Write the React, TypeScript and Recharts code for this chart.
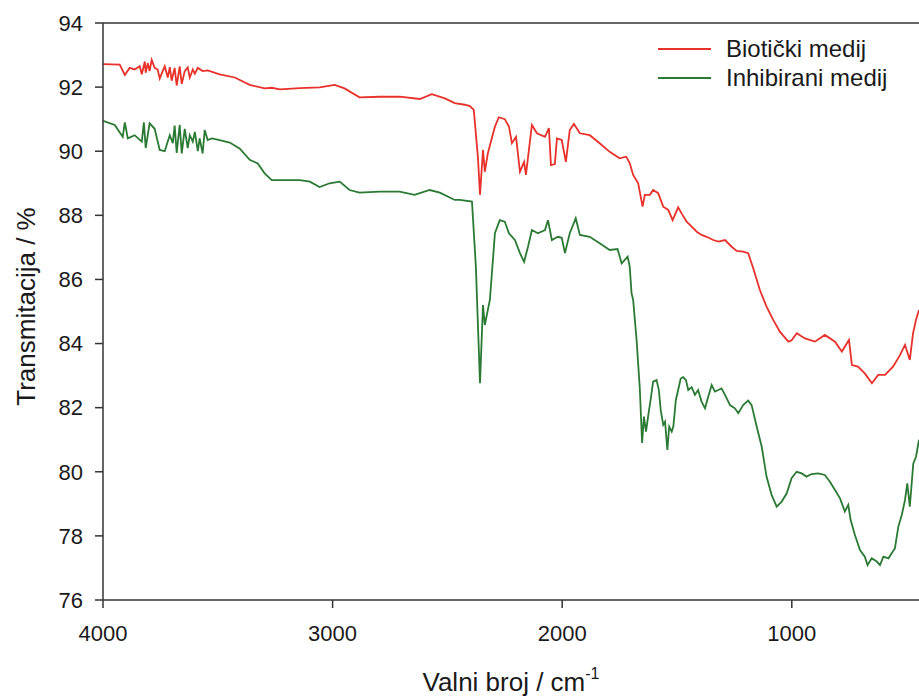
import React from 'react';
import { LineChart, Line, XAxis, YAxis, ReferenceLine } from 'recharts';

// wavenumber (cm-1) and transmittance (%)
const bioticWavenumbers = [
  4000, 3927, 3905, 3884, 3862, 3840, 3831, 3818, 3814, 3805, 3797, 3788, 3775, 3762, 3753,
  3740, 3731, 3718, 3709, 3701, 3688, 3679, 3666, 3657, 3644, 3631, 3622, 3609, 3600, 3587,
  3566, 3544, 3492, 3426, 3361, 3296, 3265, 3230, 3143, 3057, 2991, 2948, 2883, 2795, 2708,
  2620, 2568, 2511, 2468, 2424, 2402, 2385, 2367, 2358, 2345, 2337, 2324, 2293, 2276, 2250,
  2232, 2219, 2201, 2184, 2166, 2158, 2132, 2110, 2075, 2058, 2049, 2032, 2023, 2002, 1984,
  1967, 1949, 1923, 1880, 1837, 1793, 1750, 1721, 1706, 1691, 1669, 1650, 1640, 1618, 1604,
  1582, 1560, 1538, 1519, 1495, 1480, 1458, 1436, 1414, 1393, 1371, 1342, 1320, 1291, 1262,
  1240, 1212, 1190, 1168, 1139, 1110, 1081, 1052, 1015, 1001, 978, 943, 899, 856, 812,
  782, 751, 738, 712, 682, 651, 624, 594, 559, 529, 507, 486, 472, 459, 446,
];
const bioticValues = [
  92.72, 92.7, 92.38, 92.6, 92.55, 92.65, 92.4, 92.8, 92.45, 92.75, 92.5, 92.85, 92.6, 92.55, 92.27,
  92.5, 92.65, 92.3, 92.62, 92.2, 92.6, 92.05, 92.65, 92.1, 92.5, 92.62, 92.3, 92.55, 92.42, 92.6,
  92.5, 92.52, 92.4, 92.3, 92.07, 91.96, 91.98, 91.93, 91.97, 91.99, 92.07, 91.96, 91.68, 91.7, 91.7,
  91.63, 91.78, 91.65, 91.5, 91.45, 91.41, 91.29, 89.8, 88.64, 90.04, 89.36, 89.93, 90.77, 91.06, 91.0,
  90.77, 90.25, 90.45, 89.36, 89.67, 89.26, 90.82, 90.56, 90.45, 90.72, 89.57, 89.6, 90.4, 90.35, 89.67,
  90.66, 90.85, 90.56, 90.5, 90.25, 89.98, 89.78, 89.83, 89.63, 89.26, 89.0, 88.27, 88.64, 88.64, 88.79,
  88.69, 88.27, 88.17, 87.85, 88.25, 88.06, 87.8, 87.65, 87.49, 87.39, 87.33, 87.23, 87.18, 87.23, 87.02,
  86.89, 86.87, 86.82, 86.35, 85.67, 85.15, 84.74, 84.37, 84.06, 84.1, 84.32, 84.16, 84.06, 84.27, 84.06,
  83.75, 84.11, 83.33, 83.28, 83.07, 82.76, 83.02, 83.02, 83.28, 83.64, 83.96, 83.49, 84.32, 84.74, 85.05,
];

const inhibitedWavenumbers = [
  4000, 3949, 3914, 3905, 3892, 3862, 3831, 3822, 3814, 3797, 3775, 3753, 3731, 3718, 3709,
  3696, 3688, 3679, 3666, 3657, 3644, 3631, 3622, 3609, 3600, 3587, 3579, 3566, 3557, 3544,
  3526, 3492, 3448, 3404, 3361, 3326, 3296, 3265, 3209, 3143, 3099, 3057, 3013, 2969, 2926,
  2883, 2795, 2708, 2643, 2577, 2533, 2468, 2446, 2393, 2376, 2358, 2345, 2337, 2315, 2293,
  2272, 2250, 2232, 2206, 2184, 2166, 2149, 2132, 2106, 2075, 2062, 2045, 2019, 2002, 1988,
  1967, 1941, 1923, 1880, 1837, 1793, 1759, 1741, 1715, 1706, 1698, 1691, 1676, 1662, 1652,
  1644, 1635, 1625, 1615, 1604, 1589, 1579, 1571, 1560, 1552, 1542, 1534, 1523, 1516, 1505,
  1495, 1484, 1473, 1461, 1451, 1436, 1422, 1408, 1393, 1378, 1364, 1349, 1335, 1320, 1306,
  1291, 1269, 1248, 1233, 1212, 1190, 1175, 1153, 1131, 1110, 1088, 1066, 1044, 1022, 1001,
  979, 957, 936, 914, 885, 856, 834, 812, 790, 769, 754, 744, 725, 703, 682,
  670, 652, 630, 616, 601, 579, 565, 551, 536, 521, 507, 497, 486, 471, 459, 446,
];
const inhibitedValues = [
  90.95, 90.82, 90.45, 90.9, 90.4, 90.5, 90.3, 90.9, 90.1, 90.87, 90.7, 90.04, 90.0, 90.3, 90.5,
  90.25, 90.8, 89.95, 90.82, 89.93, 90.7, 90.1, 90.5, 90.3, 90.6, 90.0, 90.4, 89.93, 90.66, 90.35,
  90.4, 90.35, 90.27, 90.08, 89.73, 89.62, 89.31, 89.1, 89.1, 89.1, 89.05, 88.88, 89.0, 89.05, 88.79,
  88.71, 88.74, 88.74, 88.64, 88.79, 88.71, 88.48, 88.48, 88.43, 86.4, 82.76, 85.2, 84.58, 85.36, 87.44,
  87.85, 87.8, 87.44, 87.23, 86.82, 86.55, 87.02, 87.54, 87.44, 87.54, 87.85, 87.23, 87.33, 87.3, 86.82,
  87.44, 87.91, 87.39, 87.33, 87.13, 86.92, 86.95, 86.5, 86.71, 86.4, 85.57, 85.36, 84.11, 82.6, 80.9,
  81.72, 81.25, 81.77, 82.24, 82.81, 82.86, 82.55, 81.93, 81.46, 81.56, 80.68, 81.41, 81.25, 81.41, 82.24,
  82.55, 82.91, 82.95, 82.86, 82.55, 82.64, 82.4, 82.55, 82.19, 81.98, 82.34, 82.71, 82.5, 82.55, 82.6,
  82.4, 82.08, 81.98, 81.83, 82.08, 82.22, 82.08, 81.41, 80.78, 79.85, 79.28, 78.91, 79.07, 79.33, 79.8,
  80.0, 79.95, 79.85, 79.93, 79.95, 79.9, 79.69, 79.43, 79.17, 78.76, 78.97, 78.5, 78.03, 77.56, 77.35,
  77.09, 77.3, 77.2, 77.09, 77.35, 77.3, 77.46, 77.61, 78.29, 78.65, 79.12, 79.64, 78.91, 80.25, 80.47, 81.0,
];

const xTicks = [4000, 3000, 2000, 1000];
const yTicks = [76, 78, 80, 82, 84, 86, 88, 90, 92, 94];

const RED = '#e8312a';
const GREEN = '#2b7a34';
const AXIS = '#333333';
const TEXT = '#1a1a1a';
const FONT = '"Liberation Sans", Arial, sans-serif';

const bioticData = bioticWavenumbers.map((w, i) => ({ w, v: bioticValues[i] }));
const inhibitedData = inhibitedWavenumbers.map((w, i) => ({ w, v: inhibitedValues[i] }));

const legendItems = [
  { name: 'Biotički medij', color: RED },
  { name: 'Inhibirani medij', color: GREEN },
];

// legend is an overlay so it does not push the plot area down
const LegendBox = () => (
  <div style={{ position: 'absolute', left: 658, top: 34, fontFamily: FONT, fontSize: 24, color: TEXT }}>
    {legendItems.map((it) => (
      <div key={it.name} style={{ display: 'flex', alignItems: 'center', height: 29, whiteSpace: 'nowrap' }}>
        <span style={{ display: 'inline-block', width: 53, borderTop: `2px solid ${it.color}`, marginRight: 15 }} />
        <span>{it.name}</span>
      </div>
    ))}
  </div>
);

const YTitle = ({ viewBox }: any) => {
  const cx = viewBox.x + 35;
  const cy = viewBox.y + viewBox.height / 2 - 5;
  return (
    <text x={cx} y={cy} transform={`rotate(-90, ${cx}, ${cy})`} textAnchor="middle"
      fontFamily={FONT} fontSize={26} fill={TEXT}>
      Transmitacija / %
    </text>
  );
};

const XTitle = ({ viewBox }: any) => {
  const cx = viewBox.x + viewBox.width / 2;
  const by = viewBox.y + 91;
  return (
    <text x={cx} y={by} textAnchor="middle" fontFamily={FONT} fontSize={26} fill={TEXT}>
      <tspan>Valni broj / cm</tspan>
      <tspan dy={-12} fontSize={16}>-1</tspan>
    </text>
  );
};

export default function App() {
  return (
    <div style={{ position: 'absolute', left: 0, top: 0, width: 919, height: 697, overflow: 'hidden', fontFamily: FONT, background: '#fff' }}>
      <LineChart width={919} height={697} margin={{ top: 23, right: 0, bottom: 0, left: 0 }}>
        <XAxis
          type="number"
          dataKey="w"
          domain={[446, 4000]}
          reversed
          allowDataOverflow
          ticks={xTicks}
          height={97}
          tickSize={8}
          tickMargin={17}
          stroke={AXIS}
          strokeWidth={1.5}
          tick={{ fontSize: 22, fill: TEXT, fontFamily: FONT }}
          label={<XTitle />}
        />
        <YAxis
          type="number"
          domain={[76, 94]}
          ticks={yTicks}
          width={103}
          tickSize={8}
          tickMargin={12}
          stroke={AXIS}
          strokeWidth={1.5}
          tick={{ fontSize: 22, fill: TEXT, fontFamily: FONT }}
          label={<YTitle />}
        />
        <ReferenceLine y={94} stroke={AXIS} strokeWidth={1.5} />
        <Line
          data={bioticData}
          dataKey="v"
          name="Biotički medij"
          stroke={RED}
          strokeWidth={1.8}
          dot={false}
          type="linear"
          isAnimationActive={false}
        />
        <Line
          data={inhibitedData}
          dataKey="v"
          name="Inhibirani medij"
          stroke={GREEN}
          strokeWidth={1.8}
          dot={false}
          type="linear"
          isAnimationActive={false}
        />
      </LineChart>
      <LegendBox />
    </div>
  );
}
